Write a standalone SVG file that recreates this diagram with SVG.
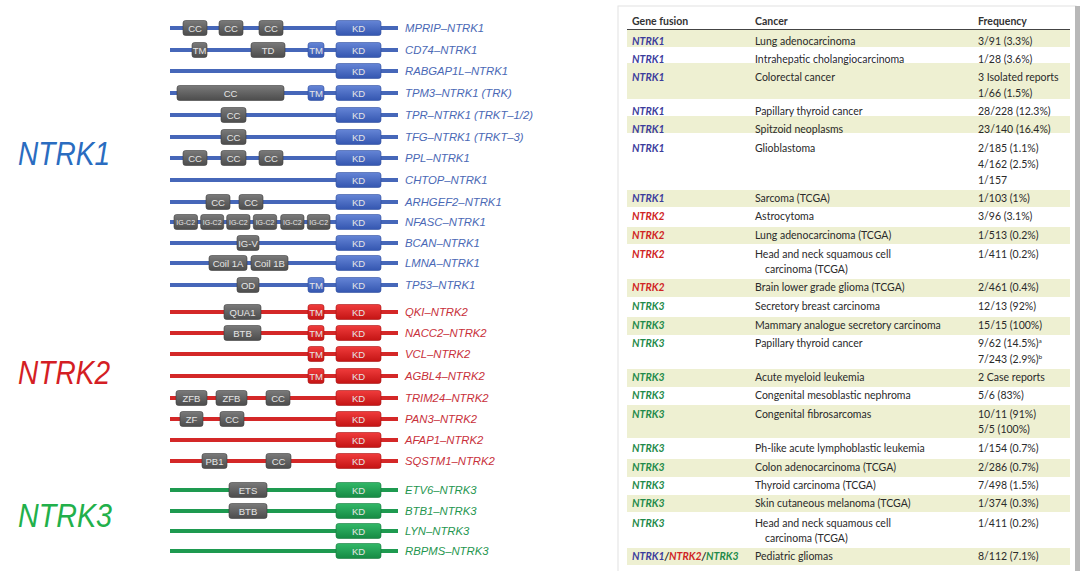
<svg xmlns="http://www.w3.org/2000/svg" width="1080" height="571" viewBox="0 0 1080 571">
<defs>
<linearGradient id="gB" x1="0" y1="0" x2="0" y2="1"><stop offset="0" stop-color="#6585d6"/><stop offset="1" stop-color="#3456b0"/></linearGradient>
<linearGradient id="gR" x1="0" y1="0" x2="0" y2="1"><stop offset="0" stop-color="#f03c3c"/><stop offset="1" stop-color="#c41414"/></linearGradient>
<linearGradient id="gG" x1="0" y1="0" x2="0" y2="1"><stop offset="0" stop-color="#32b868"/><stop offset="1" stop-color="#168a44"/></linearGradient>
<linearGradient id="gK" x1="0" y1="0" x2="0" y2="1"><stop offset="0" stop-color="#7a7a7a"/><stop offset="1" stop-color="#4c4c4c"/></linearGradient>
</defs>
<style>
.l1{stroke:#4667b9;stroke-width:4}
.l2{stroke:#d42828;stroke-width:4}
.l3{stroke:#1e9a50;stroke-width:4}
.b1{fill:url(#gB);stroke:#2f4f9f;stroke-width:0.6}
.b2{fill:url(#gR);stroke:#a81010;stroke-width:0.6}
.b3{fill:url(#gG);stroke:#127a3a;stroke-width:0.6}
.bk{fill:url(#gK);stroke:#3e3e3e;stroke-width:0.6}
.dt{font-family:"Liberation Sans",Arial,sans-serif;font-size:9.5px;fill:#e6e6e6;text-anchor:middle}
.ds{font-size:7px}
.lb{font-family:"Liberation Sans",Arial,sans-serif;font-size:11.3px;font-style:italic}
.c1{fill:#4a68b5}.c2{fill:#c8303a}.c3{fill:#1f9650}
.big{font-family:"Liberation Sans",Arial,sans-serif;font-size:33px;font-style:italic}
.tt{font-family:Lato,"Liberation Sans",sans-serif;font-size:10.5px;fill:#2a2a2a}
.th{font-family:Lato,"Liberation Sans",sans-serif;font-size:10.5px;fill:#333;font-weight:bold}
.g{font-family:Lato,"Liberation Sans",sans-serif;font-size:10.5px;font-style:italic;font-weight:bold}
.k1{fill:#3c3c9c}.k2{fill:#d02424}.k3{fill:#1f8a4a}
.hl{fill:#eef0d2}
</style>
<rect width="1080" height="571" fill="#fff"/>

<g id="titles">
<text class="big" x="18" y="165" fill="#2a6cc0" textLength="92" lengthAdjust="spacingAndGlyphs">NTRK1</text>
<text class="big" x="18" y="384" fill="#d41e24" textLength="92" lengthAdjust="spacingAndGlyphs">NTRK2</text>
<text class="big" x="18" y="527" fill="#22b04a" textLength="94" lengthAdjust="spacingAndGlyphs">NTRK3</text>
</g>

<g id="connectors">
<line class="l1" x1="170" y1="28" x2="398" y2="28"/>
<line class="l1" x1="170" y1="50" x2="398" y2="50"/>
<line class="l1" x1="170" y1="71" x2="398" y2="71"/>
<line class="l1" x1="170" y1="93" x2="398" y2="93"/>
<line class="l1" x1="170" y1="115" x2="398" y2="115"/>
<line class="l1" x1="170" y1="137" x2="398" y2="137"/>
<line class="l1" x1="170" y1="158" x2="398" y2="158"/>
<line class="l1" x1="170" y1="180" x2="398" y2="180"/>
<line class="l1" x1="170" y1="202" x2="398" y2="202"/>
<line class="l1" x1="170" y1="222" x2="398" y2="222"/>
<line class="l1" x1="170" y1="243" x2="398" y2="243"/>
<line class="l1" x1="170" y1="263" x2="398" y2="263"/>
<line class="l1" x1="170" y1="285" x2="398" y2="285"/>
<line class="l2" x1="170" y1="312" x2="398" y2="312"/>
<line class="l2" x1="170" y1="333" x2="398" y2="333"/>
<line class="l2" x1="170" y1="354" x2="398" y2="354"/>
<line class="l2" x1="170" y1="376" x2="398" y2="376"/>
<line class="l2" x1="170" y1="398" x2="398" y2="398"/>
<line class="l2" x1="170" y1="419" x2="398" y2="419"/>
<line class="l2" x1="170" y1="440" x2="398" y2="440"/>
<line class="l2" x1="170" y1="461" x2="398" y2="461"/>
<line class="l3" x1="170" y1="490" x2="398" y2="490"/>
<line class="l3" x1="170" y1="511" x2="398" y2="511"/>
<line class="l3" x1="170" y1="531" x2="398" y2="531"/>
<line class="l3" x1="170" y1="551" x2="398" y2="551"/>
</g>

<g id="MPRIP-NTRK1">
<rect class="bk" x="183" y="20.5" width="24" height="15" rx="2.5"/><text class="dt" x="195" y="31.5">CC</text>
<rect class="bk" x="219" y="20.5" width="24" height="15" rx="2.5"/><text class="dt" x="231" y="31.5">CC</text>
<rect class="bk" x="259" y="20.5" width="24" height="15" rx="2.5"/><text class="dt" x="271" y="31.5">CC</text>
<rect class="b1" x="336" y="20.5" width="45" height="15" rx="2.5"/><text class="dt" x="358.5" y="31.5">KD</text>
<text class="lb c1" x="405" y="32">MPRIP–NTRK1</text>
</g>
<g id="CD74-NTRK1">
<rect class="bk" x="192" y="42.5" width="15" height="15" rx="2.5"/><text class="dt" x="199.5" y="53.5">TM</text>
<rect class="bk" x="251" y="42.5" width="34" height="15" rx="2.5"/><text class="dt" x="268" y="53.5">TD</text>
<rect class="b1" x="308" y="42.5" width="16" height="15" rx="2.5"/><text class="dt" x="316" y="53.5">TM</text>
<rect class="b1" x="336" y="42.5" width="45" height="15" rx="2.5"/><text class="dt" x="358.5" y="53.5">KD</text>
<text class="lb c1" x="405" y="54">CD74–NTRK1</text>
</g>
<g id="RABGAP1L-NTRK1">
<rect class="b1" x="336" y="63.5" width="45" height="15" rx="2.5"/><text class="dt" x="358.5" y="74.5">KD</text>
<text class="lb c1" x="405" y="75">RABGAP1L–NTRK1</text>
</g>
<g id="TPM3-NTRK1">
<rect class="bk" x="177" y="85.5" width="107" height="15" rx="2.5"/><text class="dt" x="230.5" y="96.5">CC</text>
<rect class="b1" x="308" y="85.5" width="16" height="15" rx="2.5"/><text class="dt" x="316" y="96.5">TM</text>
<rect class="b1" x="336" y="85.5" width="45" height="15" rx="2.5"/><text class="dt" x="358.5" y="96.5">KD</text>
<text class="lb c1" x="405" y="97">TPM3–NTRK1 (TRK)</text>
</g>
<g id="TPR-NTRK1">
<rect class="bk" x="221" y="107.5" width="25" height="15" rx="2.5"/><text class="dt" x="233.5" y="118.5">CC</text>
<rect class="b1" x="336" y="107.5" width="45" height="15" rx="2.5"/><text class="dt" x="358.5" y="118.5">KD</text>
<text class="lb c1" x="405" y="119">TPR–NTRK1 (TRKT–1/2)</text>
</g>
<g id="TFG-NTRK1">
<rect class="bk" x="221" y="129.5" width="25" height="15" rx="2.5"/><text class="dt" x="233.5" y="140.5">CC</text>
<rect class="b1" x="336" y="129.5" width="45" height="15" rx="2.5"/><text class="dt" x="358.5" y="140.5">KD</text>
<text class="lb c1" x="405" y="141">TFG–NTRK1 (TRKT–3)</text>
</g>
<g id="PPL-NTRK1">
<rect class="bk" x="183" y="150.5" width="24" height="15" rx="2.5"/><text class="dt" x="195" y="161.5">CC</text>
<rect class="bk" x="221" y="150.5" width="25" height="15" rx="2.5"/><text class="dt" x="233.5" y="161.5">CC</text>
<rect class="bk" x="259" y="150.5" width="24" height="15" rx="2.5"/><text class="dt" x="271" y="161.5">CC</text>
<rect class="b1" x="336" y="150.5" width="45" height="15" rx="2.5"/><text class="dt" x="358.5" y="161.5">KD</text>
<text class="lb c1" x="405" y="162">PPL–NTRK1</text>
</g>
<g id="CHTOP-NTRK1">
<rect class="b1" x="336" y="172.5" width="45" height="15" rx="2.5"/><text class="dt" x="358.5" y="183.5">KD</text>
<text class="lb c1" x="405" y="184">CHTOP–NTRK1</text>
</g>
<g id="ARHGEF2-NTRK1">
<rect class="bk" x="206" y="194.5" width="24" height="15" rx="2.5"/><text class="dt" x="218" y="205.5">CC</text>
<rect class="bk" x="239" y="194.5" width="24" height="15" rx="2.5"/><text class="dt" x="251" y="205.5">CC</text>
<rect class="b1" x="336" y="194.5" width="45" height="15" rx="2.5"/><text class="dt" x="358.5" y="205.5">KD</text>
<text class="lb c1" x="405" y="206">ARHGEF2–NTRK1</text>
</g>
<g id="NFASC-NTRK1">
<rect class="bk" x="174" y="214.5" width="23.5" height="15" rx="2.5"/><text class="dt ds" x="185.7" y="224.5">IG-C2</text>
<rect class="bk" x="200.7" y="214.5" width="23" height="15" rx="2.5"/><text class="dt ds" x="212.2" y="224.5">IG-C2</text>
<rect class="bk" x="226.7" y="214.5" width="23.3" height="15" rx="2.5"/><text class="dt ds" x="238.3" y="224.5">IG-C2</text>
<rect class="bk" x="253.3" y="214.5" width="23.4" height="15" rx="2.5"/><text class="dt ds" x="265" y="224.5">IG-C2</text>
<rect class="bk" x="280.7" y="214.5" width="23.3" height="15" rx="2.5"/><text class="dt ds" x="292.3" y="224.5">IG-C2</text>
<rect class="bk" x="307.3" y="214.5" width="22.7" height="15" rx="2.5"/><text class="dt ds" x="318.7" y="224.5">IG-C2</text>
<rect class="b1" x="336" y="214.5" width="45" height="15" rx="2.5"/><text class="dt" x="358.5" y="225.5">KD</text>
<text class="lb c1" x="405" y="226">NFASC–NTRK1</text>
</g>
<g id="BCAN-NTRK1">
<rect class="bk" x="237" y="235.5" width="22" height="15" rx="2.5"/><text class="dt" x="248" y="246.5">IG-V</text>
<rect class="b1" x="336" y="235.5" width="45" height="15" rx="2.5"/><text class="dt" x="358.5" y="246.5">KD</text>
<text class="lb c1" x="405" y="247">BCAN–NTRK1</text>
</g>
<g id="LMNA-NTRK1">
<rect class="bk" x="209" y="255.5" width="38" height="15" rx="2.5"/><text class="dt" x="228" y="266.5">Coil 1A</text>
<rect class="bk" x="251" y="255.5" width="37" height="15" rx="2.5"/><text class="dt" x="269.5" y="266.5">Coil 1B</text>
<rect class="b1" x="336" y="255.5" width="45" height="15" rx="2.5"/><text class="dt" x="358.5" y="266.5">KD</text>
<text class="lb c1" x="405" y="267">LMNA–NTRK1</text>
</g>
<g id="TP53-NTRK1">
<rect class="bk" x="237" y="277.5" width="22" height="15" rx="2.5"/><text class="dt" x="248" y="288.5">OD</text>
<rect class="b1" x="308" y="277.5" width="16" height="15" rx="2.5"/><text class="dt" x="316" y="288.5">TM</text>
<rect class="b1" x="336" y="277.5" width="45" height="15" rx="2.5"/><text class="dt" x="358.5" y="288.5">KD</text>
<text class="lb c1" x="405" y="289">TP53–NTRK1</text>
</g>

<g id="QKI-NTRK2">
<rect class="bk" x="224" y="304.5" width="37" height="15" rx="2.5"/><text class="dt" x="242.5" y="315.5">QUA1</text>
<rect class="b2" x="308" y="304.5" width="16" height="15" rx="2.5"/><text class="dt" x="316" y="315.5">TM</text>
<rect class="b2" x="336" y="304.5" width="45" height="15" rx="2.5"/><text class="dt" x="358.5" y="315.5">KD</text>
<text class="lb c2" x="405" y="316">QKI–NTRK2</text>
</g>
<g id="NACC2-NTRK2">
<rect class="bk" x="224" y="325.5" width="37" height="15" rx="2.5"/><text class="dt" x="242.5" y="336.5">BTB</text>
<rect class="b2" x="308" y="325.5" width="16" height="15" rx="2.5"/><text class="dt" x="316" y="336.5">TM</text>
<rect class="b2" x="336" y="325.5" width="45" height="15" rx="2.5"/><text class="dt" x="358.5" y="336.5">KD</text>
<text class="lb c2" x="405" y="337">NACC2–NTRK2</text>
</g>
<g id="VCL-NTRK2">
<rect class="b2" x="308" y="346.5" width="16" height="15" rx="2.5"/><text class="dt" x="316" y="357.5">TM</text>
<rect class="b2" x="336" y="346.5" width="45" height="15" rx="2.5"/><text class="dt" x="358.5" y="357.5">KD</text>
<text class="lb c2" x="405" y="358">VCL–NTRK2</text>
</g>
<g id="AGBL4-NTRK2">
<rect class="b2" x="308" y="368.5" width="16" height="15" rx="2.5"/><text class="dt" x="316" y="379.5">TM</text>
<rect class="b2" x="336" y="368.5" width="45" height="15" rx="2.5"/><text class="dt" x="358.5" y="379.5">KD</text>
<text class="lb c2" x="405" y="380">AGBL4–NTRK2</text>
</g>
<g id="TRIM24-NTRK2">
<rect class="bk" x="176" y="390.5" width="31" height="15" rx="2.5"/><text class="dt" x="191.5" y="401.5">ZFB</text>
<rect class="bk" x="216" y="390.5" width="31" height="15" rx="2.5"/><text class="dt" x="231.5" y="401.5">ZFB</text>
<rect class="bk" x="266" y="390.5" width="24" height="15" rx="2.5"/><text class="dt" x="278" y="401.5">CC</text>
<rect class="b2" x="336" y="390.5" width="45" height="15" rx="2.5"/><text class="dt" x="358.5" y="401.5">KD</text>
<text class="lb c2" x="405" y="402">TRIM24–NTRK2</text>
</g>
<g id="PAN3-NTRK2">
<rect class="bk" x="180" y="411.5" width="23" height="15" rx="2.5"/><text class="dt" x="191.5" y="422.5">ZF</text>
<rect class="bk" x="220" y="411.5" width="24" height="15" rx="2.5"/><text class="dt" x="232" y="422.5">CC</text>
<rect class="b2" x="336" y="411.5" width="45" height="15" rx="2.5"/><text class="dt" x="358.5" y="422.5">KD</text>
<text class="lb c2" x="405" y="423">PAN3–NTRK2</text>
</g>
<g id="AFAP1-NTRK2">
<rect class="b2" x="336" y="432.5" width="45" height="15" rx="2.5"/><text class="dt" x="358.5" y="443.5">KD</text>
<text class="lb c2" x="405" y="444">AFAP1–NTRK2</text>
</g>
<g id="SQSTM1-NTRK2">
<rect class="bk" x="202" y="453.5" width="25" height="15" rx="2.5"/><text class="dt" x="214.5" y="464.5">PB1</text>
<rect class="bk" x="266" y="453.5" width="25" height="15" rx="2.5"/><text class="dt" x="278.5" y="464.5">CC</text>
<rect class="b2" x="336" y="453.5" width="45" height="15" rx="2.5"/><text class="dt" x="358.5" y="464.5">KD</text>
<text class="lb c2" x="405" y="465">SQSTM1–NTRK2</text>
</g>

<g id="ETV6-NTRK3">
<rect class="bk" x="229" y="482.5" width="38" height="15" rx="2.5"/><text class="dt" x="248" y="493.5">ETS</text>
<rect class="b3" x="336" y="482.5" width="45" height="15" rx="2.5"/><text class="dt" x="358.5" y="493.5">KD</text>
<text class="lb c3" x="405" y="494">ETV6–NTRK3</text>
</g>
<g id="BTB1-NTRK3">
<rect class="bk" x="229" y="503.5" width="38" height="15" rx="2.5"/><text class="dt" x="248" y="514.5">BTB</text>
<rect class="b3" x="336" y="503.5" width="45" height="15" rx="2.5"/><text class="dt" x="358.5" y="514.5">KD</text>
<text class="lb c3" x="405" y="515">BTB1–NTRK3</text>
</g>
<g id="LYN-NTRK3">
<rect class="b3" x="336" y="523.5" width="45" height="15" rx="2.5"/><text class="dt" x="358.5" y="534.5">KD</text>
<text class="lb c3" x="405" y="535">LYN–NTRK3</text>
</g>
<g id="RBPMS-NTRK3">
<rect class="b3" x="336" y="543.5" width="45" height="15" rx="2.5"/><text class="dt" x="358.5" y="554.5">KD</text>
<text class="lb c3" x="405" y="555">RBPMS–NTRK3</text>
</g>

<g id="table">
<rect x="618" y="6" width="458" height="570" fill="#fff" stroke="#e2e2e2" stroke-width="1"/>
<rect x="1075" y="6" width="5" height="565" fill="#b8b8b8"/>
<rect class="hl" x="627" y="30" width="443" height="17"/>
<rect class="hl" x="627" y="63" width="443" height="36"/>
<rect class="hl" x="627" y="116" width="443" height="17"/>
<rect class="hl" x="627" y="190" width="443" height="17"/>
<rect class="hl" x="627" y="227" width="443" height="17"/>
<rect class="hl" x="627" y="279" width="443" height="18"/>
<rect class="hl" x="627" y="317" width="443" height="18"/>
<rect class="hl" x="627" y="369" width="443" height="18"/>
<rect class="hl" x="627" y="405" width="443" height="33"/>
<rect class="hl" x="627" y="459" width="443" height="18"/>
<rect class="hl" x="627" y="495" width="443" height="17"/>
<rect class="hl" x="627" y="548" width="443" height="17"/>
<line x1="627" y1="29.5" x2="1070" y2="29.5" stroke="#444" stroke-width="1"/>
<text class="th" x="632" y="25">Gene fusion</text>
<text class="th" x="755" y="25">Cancer</text>
<text class="th" x="978" y="25">Frequency</text>

<text class="g k1" x="632" y="45">NTRK1</text><text class="tt" x="755" y="45">Lung adenocarcinoma</text><text class="tt" x="978" y="45">3/91 (3.3%)</text>
<text class="g k1" x="632" y="63">NTRK1</text><text class="tt" x="755" y="63">Intrahepatic cholangiocarcinoma</text><text class="tt" x="978" y="63">1/28 (3.6%)</text>
<text class="g k1" x="632" y="81">NTRK1</text><text class="tt" x="755" y="81">Colorectal cancer</text><text class="tt" x="978" y="81">3 Isolated reports</text><text class="tt" x="978" y="97">1/66 (1.5%)</text>
<text class="g k1" x="632" y="115">NTRK1</text><text class="tt" x="755" y="115">Papillary thyroid cancer</text><text class="tt" x="978" y="115">28/228 (12.3%)</text>
<text class="g k1" x="632" y="133">NTRK1</text><text class="tt" x="755" y="133">Spitzoid neoplasms</text><text class="tt" x="978" y="133">23/140 (16.4%)</text>
<text class="g k1" x="632" y="152">NTRK1</text><text class="tt" x="755" y="152">Glioblastoma</text><text class="tt" x="978" y="152">2/185 (1.1%)</text><text class="tt" x="978" y="168">4/162 (2.5%)</text><text class="tt" x="978" y="184">1/157</text>
<text class="g k1" x="632" y="202">NTRK1</text><text class="tt" x="755" y="202">Sarcoma (TCGA)</text><text class="tt" x="978" y="202">1/103 (1%)</text>
<text class="g k2" x="632" y="220">NTRK2</text><text class="tt" x="755" y="220">Astrocytoma</text><text class="tt" x="978" y="220">3/96 (3.1%)</text>
<text class="g k2" x="632" y="239">NTRK2</text><text class="tt" x="755" y="239">Lung adenocarcinoma (TCGA)</text><text class="tt" x="978" y="239">1/513 (0.2%)</text>
<text class="g k2" x="632" y="258">NTRK2</text><text class="tt" x="755" y="258">Head and neck squamous cell</text><text class="tt" x="765" y="273">carcinoma (TCGA)</text><text class="tt" x="978" y="258">1/411 (0.2%)</text>
<text class="g k2" x="632" y="291">NTRK2</text><text class="tt" x="755" y="291">Brain lower grade glioma (TCGA)</text><text class="tt" x="978" y="291">2/461 (0.4%)</text>
<text class="g k3" x="632" y="310">NTRK3</text><text class="tt" x="755" y="310">Secretory breast carcinoma</text><text class="tt" x="978" y="310">12/13 (92%)</text>
<text class="g k3" x="632" y="329">NTRK3</text><text class="tt" x="755" y="329">Mammary analogue secretory carcinoma</text><text class="tt" x="978" y="329">15/15 (100%)</text>
<text class="g k3" x="632" y="347">NTRK3</text><text class="tt" x="755" y="347">Papillary thyroid cancer</text><text class="tt" x="978" y="347">9/62 (14.5%)<tspan font-size="6.5" dy="-4">a</tspan></text><text class="tt" x="978" y="363">7/243 (2.9%)<tspan font-size="6.5" dy="-4">b</tspan></text>
<text class="g k3" x="632" y="381">NTRK3</text><text class="tt" x="755" y="381">Acute myeloid leukemia</text><text class="tt" x="978" y="381">2 Case reports</text>
<text class="g k3" x="632" y="399">NTRK3</text><text class="tt" x="755" y="399">Congenital mesoblastic nephroma</text><text class="tt" x="978" y="399">5/6 (83%)</text>
<text class="g k3" x="632" y="418">NTRK3</text><text class="tt" x="755" y="418">Congenital fibrosarcomas</text><text class="tt" x="978" y="418">10/11 (91%)</text><text class="tt" x="978" y="433">5/5 (100%)</text>
<text class="g k3" x="632" y="452">NTRK3</text><text class="tt" x="755" y="452">Ph-like acute lymphoblastic leukemia</text><text class="tt" x="978" y="452">1/154 (0.7%)</text>
<text class="g k3" x="632" y="471">NTRK3</text><text class="tt" x="755" y="471">Colon adenocarcinoma (TCGA)</text><text class="tt" x="978" y="471">2/286 (0.7%)</text>
<text class="g k3" x="632" y="489">NTRK3</text><text class="tt" x="755" y="489">Thyroid carcinoma (TCGA)</text><text class="tt" x="978" y="489">7/498 (1.5%)</text>
<text class="g k3" x="632" y="507">NTRK3</text><text class="tt" x="755" y="507">Skin cutaneous melanoma (TCGA)</text><text class="tt" x="978" y="507">1/374 (0.3%)</text>
<text class="g k3" x="632" y="527">NTRK3</text><text class="tt" x="755" y="527">Head and neck squamous cell</text><text class="tt" x="765" y="542">carcinoma (TCGA)</text><text class="tt" x="978" y="527">1/411 (0.2%)</text>
<text class="g" x="632" y="560"><tspan class="k1">NTRK1</tspan><tspan fill="#2a2a2a">/</tspan><tspan class="k2">NTRK2</tspan><tspan fill="#2a2a2a">/</tspan><tspan class="k3">NTRK3</tspan></text><text class="tt" x="755" y="560">Pediatric gliomas</text><text class="tt" x="978" y="560">8/112 (7.1%)</text>
</g>
</svg>
